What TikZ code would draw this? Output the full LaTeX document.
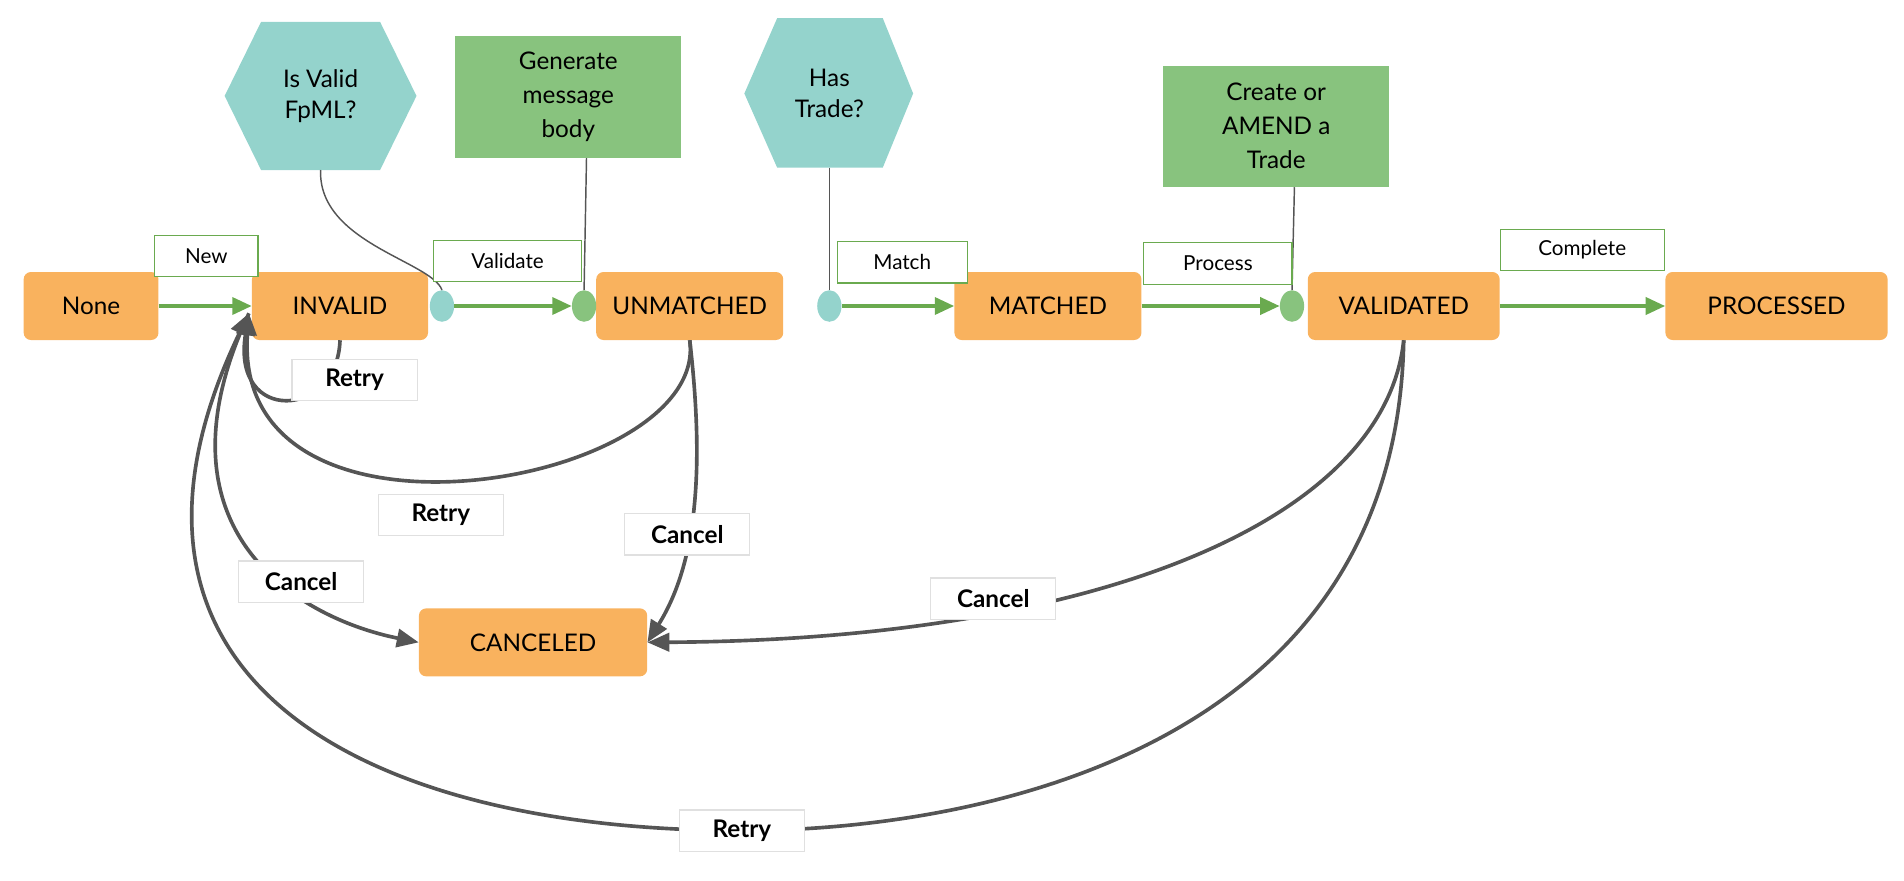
\documentclass[tikz,border=0pt]{standalone}
\usepackage{fontspec}
\setmainfont{Lato}
\usetikzlibrary{arrows.meta}
\definecolor{org}{HTML}{F9B25E}
\definecolor{teal}{HTML}{94D3CC}
\definecolor{gbox}{HTML}{88C37E}
\definecolor{gline}{HTML}{6AAA4F}
\definecolor{dgray}{HTML}{555555}
\tikzset{
 state/.style={fill=org,rounded corners=6pt,minimum height=56pt,inner sep=0pt,font=\fontsize{20}{24}\selectfont},
 act/.style={fill=gbox,minimum width=186pt,minimum height=100pt,align=center,font=\fontsize{20}{24}\selectfont},
 glab/.style={draw=gline,line width=1pt,fill=white,minimum height=34pt,font=\fontsize{17}{20}\selectfont},
 blab/.style={draw=black!12,line width=1pt,fill=white,minimum height=34pt,minimum width=103pt,font=\fontsize{20}{24}\selectfont\bfseries},
 garr/.style={draw=gline,line width=3pt,-{Triangle[length=16pt,width=14pt]}},
 gr/.style={draw=dgray,line width=3pt,-{Triangle[length=18pt,width=15pt]}},
 thin/.style={draw=dgray,line width=1.2pt},
 dot/.style={ellipse,minimum width=20pt,minimum height=26pt,inner sep=0pt},
}
\usetikzlibrary{shapes.geometric}
\begin{document}
\begin{tikzpicture}[x=1pt,y=-1pt]
\useasboundingbox (0,0) rectangle (1568,725);
% states
\node[state,minimum width=111pt] (none) at (75,252) {None};
\node[state,minimum width=145pt] (inv) at (280,252) {INVALID};
\node[state,minimum width=154pt] (unm) at (568,252) {UNMATCHED};
\node[state,minimum width=154pt] (mat) at (863,252) {MATCHED};
\node[state,minimum width=158pt] (val) at (1156,252) {VALIDATED};
\node[state,minimum width=183pt] (pro) at (1463,252) {PROCESSED};
\node[state,minimum width=188pt] (can) at (439,529) {CANCELED};
% hexagons
\fill[teal] (185,79)--(215,18)--(313,18)--(343,79)--(313,140)--(215,140)--cycle;
\node[align=center,font=\fontsize{20}{26}\selectfont] (fpml) at (264,79) {Is Valid\\FpML?};
\coordinate (fpmlb) at (264,140);
\fill[teal] (613,77)--(640,15)--(727,15)--(752,77)--(727,138)--(640,138)--cycle;
\node[align=center,font=\fontsize{20}{26}\selectfont] (has) at (683,77) {Has\\Trade?};
\coordinate (hasb) at (683,138);
\node[act,font=\fontsize{20}{28}\selectfont] (gen) at (468,80) {Generate\\message\\body};
\node[act,font=\fontsize{20}{28}\selectfont] (cre) at (1051,104) {Create or\\AMEND a\\Trade};
% dots
\node[dot,fill=teal] (d1) at (364,252) {};
\node[dot,fill=gbox] (d2) at (481,252) {};
\node[dot,fill=teal] (d3) at (683,252) {};
\node[dot,fill=gbox] (d4) at (1064,252) {};
% thin lines
\draw[thin] (fpmlb) .. controls (262,200) and (355,215) .. (d1.north);
\draw[thin] (gen.south -| 483,0) -- (d2.north);
\draw[thin] (hasb) -- (d3.north);
\draw[thin] (cre.south -| 1066,0) -- (d4.north);
% green arrows
\path[garr] (none.east) -- (inv.west);
\path[garr] (d1.east) -- (d2.west);
\path[garr] (d3.east) -- (mat.west);
\path[garr] (mat.east) -- (d4.west);
\path[garr] (val.east) -- (pro.west);
% gray curves
\coordinate (invin) at (205,258);
\path[gr] (inv.south) .. controls (278,345) and (190,350) .. (invin);
\path[gr] (unm.south) .. controls (585,400) and (190,470) .. (invin);
\path[gr] (unm.south) .. controls (582,400) and (570,470) .. (can.east);
\path[gr] (invin) .. controls (120,440) and (250,510) .. (can.west);
\path[gr] (val.south) .. controls (1140,430) and (900,527) .. (can.east);
\path[gr] (val.south) .. controls (1150,620) and (800,684) .. (611,684) .. controls (300,684) and (60,560) .. (invin);
% labels
\node[glab,minimum width=85pt] (lnew) at (170,211) {New};
\node[glab,minimum width=122pt] (lval) at (418,215) {Validate};
\node[glab,minimum width=107pt] (lmat) at (743,216) {Match};
\node[glab,minimum width=122pt] (lpro) at (1003,217) {Process};
\node[glab,minimum width=135pt] (lcom) at (1303,206) {Complete};
\node[blab] (r1) at (292,313) {Retry};
\node[blab] (r2) at (363,424) {Retry};
\node[blab] (c1) at (566,440) {Cancel};
\node[blab] (c2) at (248,479) {Cancel};
\node[blab] (c3) at (818,493) {Cancel};
\node[blab] (r3) at (611,684) {Retry};
\end{tikzpicture}
\end{document}
